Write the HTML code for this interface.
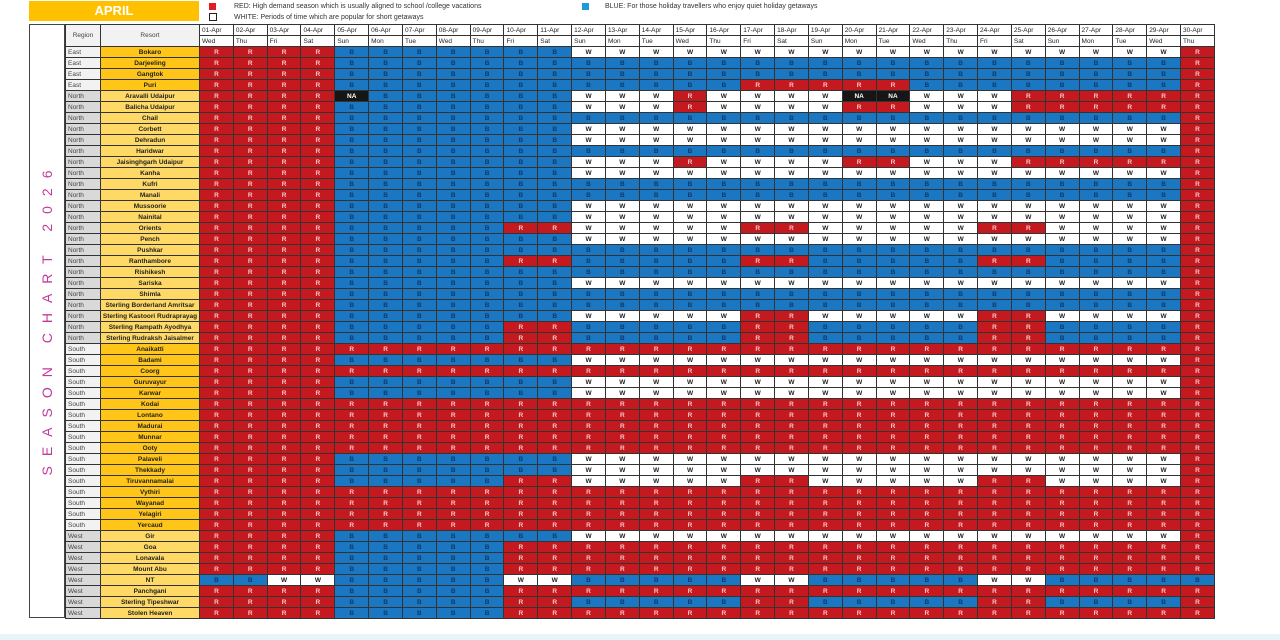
<!DOCTYPE html>
<html><head><meta charset="utf-8">
<style>
html,body{margin:0;padding:0;background:#fff;width:1280px;height:640px;overflow:hidden;font-family:"Liberation Sans",sans-serif;}
.abs{position:absolute;}
#april{left:29px;top:1px;width:170px;height:20px;background:#ffc000;color:#fff;font-weight:bold;font-size:13px;text-align:center;line-height:20px;}
.sq{width:7px;height:7px;}
.lg{font-size:7px;color:#333;line-height:9px;}
#left{left:29px;top:24px;width:36px;height:594px;border:1px solid #444;box-sizing:border-box;}
#vt{left:47px;top:318px;transform:translate(-50%,-50%) rotate(-90deg);white-space:nowrap;color:#c4389a;font-size:14px;letter-spacing:10px;}
#bot{left:0;top:634px;width:1280px;height:6px;background:#e9f4f9;}
table{position:absolute;left:65px;top:24px;border-collapse:collapse;table-layout:fixed;width:1149px;}
td{border:1px solid #333;padding:0;font-size:6.5px;text-align:center;overflow:hidden;white-space:nowrap;line-height:9px;height:10px;}
tr.d td{height:10px;}
td.h{text-align:left;padding-left:2px;color:#222;background:#fff;}
td.hh{background:#f2f2f2;color:#444;}
td.rg{text-align:left;padding-left:2px;color:#444;}
td.rs{font-weight:bold;color:#222;}
td.R{background:#c4191f;color:#f3c8c8;font-weight:bold;}
td.B{background:#1c77c3;color:#0d3a66;font-weight:bold;}
td.W{background:#fff;color:#222;font-weight:bold;}
td.N{background:#161616;color:#fff;font-weight:bold;}
</style></head><body>
<div id="april" class="abs">APRIL</div>
<div class="abs sq" style="left:209px;top:3px;background:#e21c24;"></div>
<div class="abs sq" style="left:209px;top:13px;border:1px solid #222;box-sizing:border-box;width:8px;height:8px;"></div>
<div class="abs lg" style="left:234px;top:2px;">RED: High demand season which is usually aligned to school /college vacations</div>
<div class="abs lg" style="left:234px;top:13px;">WHITE: Periods of time which are popular for short getaways</div>
<div class="abs sq" style="left:582px;top:3px;background:#1f9ad6;"></div>
<div class="abs lg" style="left:605px;top:2px;">BLUE: For those holiday travellers who enjoy quiet holiday getaways</div>
<div id="left" class="abs"></div>
<div id="vt" class="abs">SEASON CHART 2026</div>
<div id="bot" class="abs"></div>
<table id="t"></table>
<script>
var days=["Wed","Thu","Fri","Sat","Sun","Mon","Tue"];
var rows=[
["East","Bokaro","RRRRBBBBBBBWW","WWWWWWWWWWWWWWWWR"],
["East","Darjeeling","RRRRBBBBBBBBB","BBBBBBBBBBBBBBBBR"],
["East","Gangtok","RRRRBBBBBBBBB","BBBBBBBBBBBBBBBBR"],
["East","Puri","RRRRBBBBBBBBB","BBBRRRRRBBBBBBBBR"],
["North","Aravalli Udaipur","RRRRNBBBBBBWW","WRWWWWNNWWWRRRRRR"],
["North","Balicha Udaipur","RRRRBBBBBBBWW","WRWWWWRRWWWRRRRRR"],
["North","Chail","RRRRBBBBBBBBB","BBBBBBBBBBBBBBBBR"],
["North","Corbett","RRRRBBBBBBBWW","WWWWWWWWWWWWWWWWR"],
["North","Dehradun","RRRRBBBBBBBWW","WWWWWWWWWWWWWWWWR"],
["North","Haridwar","RRRRBBBBBBBBB","BBBBBBBBBBBBBBBBR"],
["North","Jaisinghgarh Udaipur","RRRRBBBBBBBWW","WRWWWWRRWWWRRRRRR"],
["North","Kanha","RRRRBBBBBBBWW","WWWWWWWWWWWWWWWWR"],
["North","Kufri","RRRRBBBBBBBBB","BBBBBBBBBBBBBBBBR"],
["North","Manali","RRRRBBBBBBBBB","BBBBBBBBBBBBBBBBR"],
["North","Mussoorie","RRRRBBBBBBBWW","WWWWWWWWWWWWWWWWR"],
["North","Nainital","RRRRBBBBBBBWW","WWWWWWWWWWWWWWWWR"],
["North","Orients","RRRRBBBBBRRWW","WWWRRWWWWWRRWWWWR"],
["North","Pench","RRRRBBBBBBBWW","WWWWWWWWWWWWWWWWR"],
["North","Pushkar","RRRRBBBBBBBBB","BBBBBBBBBBBBBBBBR"],
["North","Ranthambore","RRRRBBBBBRRBB","BBBRRBBBBBRRBBBBR"],
["North","Rishikesh","RRRRBBBBBBBBB","BBBBBBBBBBBBBBBBR"],
["North","Sariska","RRRRBBBBBBBWW","WWWWWWWWWWWWWWWWR"],
["North","Shimla","RRRRBBBBBBBBB","BBBBBBBBBBBBBBBBR"],
["North","Sterling Borderland Amritsar","RRRRBBBBBBBBB","BBBBBBBBBBBBBBBBR"],
["North","Sterling Kastoori Rudraprayag","RRRRBBBBBBBWW","WWWRRWWWWWRRWWWWR"],
["North","Sterling Rampath Ayodhya","RRRRBBBBBRRBB","BBBRRBBBBBRRBBBBR"],
["North","Sterling Rudraksh Jaisalmer","RRRRBBBBBRRBB","BBBRRBBBBBRRBBBBR"],
["South","Anaikatti","RRRRRRRRRRRRR","RRRRRRRRRRRRRRRRR"],
["South","Badami","RRRRBBBBBBBWW","WWWWWWWWWWWWWWWWR"],
["South","Coorg","RRRRRRRRRRRRR","RRRRRRRRRRRRRRRRR"],
["South","Guruvayur","RRRRBBBBBBBWW","WWWWWWWWWWWWWWWWR"],
["South","Karwar","RRRRBBBBBBBWW","WWWWWWWWWWWWWWWWR"],
["South","Kodai","RRRRRRRRRRRRR","RRRRRRRRRRRRRRRRR"],
["South","Lontano","RRRRRRRRRRRRR","RRRRRRRRRRRRRRRRR"],
["South","Madurai","RRRRRRRRRRRRR","RRRRRRRRRRRRRRRRR"],
["South","Munnar","RRRRRRRRRRRRR","RRRRRRRRRRRRRRRRR"],
["South","Ooty","RRRRRRRRRRRRR","RRRRRRRRRRRRRRRRR"],
["South","Palaveli","RRRRBBBBBBBWW","WWWWWWWWWWWWWWWWR"],
["South","Thekkady","RRRRBBBBBBBWW","WWWWWWWWWWWWWWWWR"],
["South","Tiruvannamalai","RRRRBBBBBRRWW","WWWRRWWWWWRRWWWWR"],
["South","Vythiri","RRRRRRRRRRRRR","RRRRRRRRRRRRRRRRR"],
["South","Wayanad","RRRRRRRRRRRRR","RRRRRRRRRRRRRRRRR"],
["South","Yelagiri","RRRRRRRRRRRRR","RRRRRRRRRRRRRRRRR"],
["South","Yercaud","RRRRRRRRRRRRR","RRRRRRRRRRRRRRRRR"],
["West","Gir","RRRRBBBBBBBWW","WWWWWWWWWWWWWWWWR"],
["West","Goa","RRRRBBBBBRRRR","RRRRRRRRRRRRRRRRR"],
["West","Lonavala","RRRRBBBBBRRRR","RRRRRRRRRRRRRRRRR"],
["West","Mount Abu","RRRRBBBBBRRRR","RRRRRRRRRRRRRRRRR"],
["West","NT","BBWWBBBBBWWBB","BBBWWBBBBBWWBBBBB"],
["West","Panchgani","RRRRBBBBBRRRR","RRRRRRRRRRRRRRRRR"],
["West","Sterling Tipeshwar","RRRRBBBBBRRBB","BBBRRBBBBBRRBBBBR"],
["West","Stolen Heaven","RRRRBBBBBRRRR","RRRRRRRRRRRRRRRRR"]
];
var h='<colgroup><col style="width:35px"><col style="width:99px">';
for(var i=0;i<30;i++)h+='<col style="width:33.83px">';
h+='</colgroup><tr><td rowspan="2" class="hh">Region</td><td rowspan="2" class="hh">Resort</td>';
for(i=1;i<=30;i++)h+='<td class="h">'+(i<10?'0':'')+i+'-Apr</td>';
h+='</tr><tr>';
for(i=0;i<30;i++)h+='<td class="h">'+days[i%7]+'</td>';
h+='</tr>';
rows.forEach(function(r){
 var dark=(r[0]=="East"||r[0]=="South");
 h+='<tr class="d"><td class="rg" style="background:'+(dark?'#f2f2f2':'#d9d9d9')+'">'+r[0]+'</td><td class="rs" style="background:'+(dark?'#ffc519':'#ffd966')+'">'+r[1]+'</td>';
 var s=r[2]+r[3];
 for(var k=0;k<30;k++){var c=s[k];h+='<td class="'+c+'">'+(c=='N'?'NA':c)+'</td>';}
 h+='</tr>';
});
document.getElementById('t').innerHTML=h;
</script>
</body></html>
